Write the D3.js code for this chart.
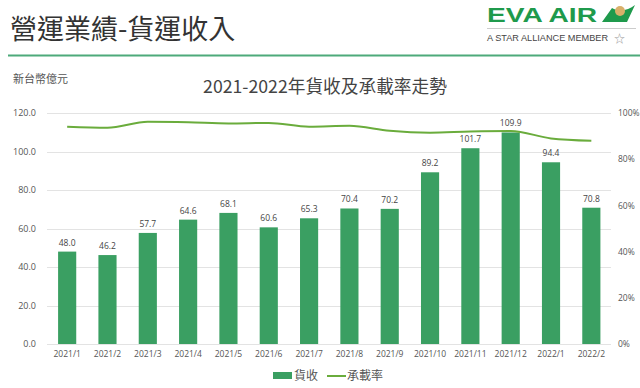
<!DOCTYPE html>
<html>
<head>
<meta charset="utf-8">
<script src="https://cdn.jsdelivr.net/npm/d3@7"></script>
<style>
  body { margin: 0; background: #fff; }
  svg { font-family: "Noto Sans CJK TC", "Noto Sans", sans-serif; }
</style>
</head>
<body>
<script>
// chart data
var months = ["2021/1", "2021/2", "2021/3", "2021/4", "2021/5", "2021/6", "2021/7",
              "2021/8", "2021/9", "2021/10", "2021/11", "2021/12", "2022/1", "2022/2"];
var cargoRevenue = [48.0, 46.2, 57.7, 64.6, 68.1, 60.6, 65.3, 70.4, 70.2, 89.2, 101.7, 109.9, 94.4, 70.8];
var loadFactor = [94.1, 93.6, 96.2, 96.0, 95.5, 95.7, 94.1, 94.5, 92.3, 91.5, 92.0, 92.2, 89.0, 88.0];
var leftTicks = [0, 20, 40, 60, 80, 100, 120];
var rightTicks = [0, 20, 40, 60, 80, 100];

function init() {
    var width = 640;
    var height = 388;
    var barColor = "#3a9f62";
    var lineColor = "#6aac3c";

    var svg = d3.select("body").append("svg")
        .attr("width", width)
        .attr("height", height);

    // page header
    svg.append("text")
        .attr("x", 10).attr("y", 39)
        .attr("font-size", 27)
        .attr("fill", "#333")
        .text("營運業績-貨運收入");

    svg.append("line")
        .attr("x1", 8).attr("x2", 640)
        .attr("y1", 55.5).attr("y2", 55.5)
        .attr("stroke", "#4daa7a")
        .attr("stroke-width", 2);

    // logo
    svg.append("text")
        .attr("x", 487).attr("y", 22)
        .attr("font-family", "Liberation Sans, sans-serif")
        .attr("font-weight", "bold")
        .attr("font-size", 21)
        .attr("textLength", 110)
        .attr("lengthAdjust", "spacingAndGlyphs")
        .attr("fill", "#1f9a4c")
        .text("EVA AIR");
    svg.append("path")
        .attr("d", "M602,22 L612,8 C618,12 628,11 635,5 L627,22 Z")
        .attr("fill", "#1f9a4c");
    svg.append("circle")
        .attr("cx", 620).attr("cy", 11).attr("r", 5)
        .attr("fill", "#d9b06a");
    svg.append("line")
        .attr("x1", 487).attr("x2", 636)
        .attr("y1", 28.5).attr("y2", 28.5)
        .attr("stroke", "#ccc");
    svg.append("text")
        .attr("x", 487).attr("y", 41)
        .attr("font-family", "Liberation Sans, sans-serif")
        .attr("font-size", 8.5)
        .attr("textLength", 121)
        .attr("lengthAdjust", "spacingAndGlyphs")
        .attr("fill", "#444")
        .text("A STAR ALLIANCE MEMBER");
    svg.append("text")
        .attr("x", 614).attr("y", 43)
        .attr("font-size", 11)
        .attr("fill", "#999")
        .text("☆");

    // chart title and unit
    svg.append("text")
        .attr("x", 325).attr("y", 93)
        .attr("text-anchor", "middle")
        .attr("font-size", 17.7)
        .attr("fill", "#444")
        .text("2021-2022年貨收及承載率走勢");

    svg.append("text")
        .attr("x", 13).attr("y", 83)
        .attr("font-size", 11)
        .attr("fill", "#555")
        .text("新台幣億元");

    // scales
    var x = d3.scaleBand()
        .domain(months)
        .range([47, 611.5])
        .paddingInner(0.55)
        .paddingOuter(0.275);

    var yLeft = d3.scaleLinear().domain([0, 120]).range([344, 113]);
    var yRight = d3.scaleLinear().domain([0, 100]).range([344, 113]);

    // gridlines
    svg.append("g")
        .selectAll("line")
        .data(leftTicks)
        .enter().append("line")
        .attr("x1", 47).attr("x2", 611)
        .attr("y1", function(d) { return Math.round(yLeft(d)) + 0.5; })
        .attr("y2", function(d) { return Math.round(yLeft(d)) + 0.5; })
        .attr("stroke", "#e3e3e3");

    // left axis
    var leftAxis = svg.append("g")
        .attr("transform", "translate(40,0)")
        .call(d3.axisLeft(yLeft).tickValues(leftTicks).tickSize(0).tickPadding(4)
            .tickFormat(d3.format(".1f")));
    leftAxis.select(".domain").remove();
    leftAxis.selectAll("text")
        .attr("font-size", 9).attr("fill", "#555")
        .attr("font-family", "Open Sans, sans-serif");

    // right axis
    var rightAxis = svg.append("g")
        .attr("transform", "translate(616,0)")
        .call(d3.axisRight(yRight).tickValues(rightTicks).tickSize(0).tickPadding(2)
            .tickFormat(function(d) { return d + "%"; }));
    rightAxis.select(".domain").remove();
    rightAxis.selectAll("text")
        .attr("font-size", 8.5).attr("fill", "#555")
        .attr("font-family", "Open Sans, sans-serif");

    // bottom axis
    var bottomAxis = svg.append("g")
        .attr("transform", "translate(0,344)")
        .call(d3.axisBottom(x).tickSize(0).tickPadding(7));
    bottomAxis.select(".domain").remove();
    bottomAxis.selectAll("text")
        .attr("font-size", 8.5).attr("fill", "#555")
        .attr("font-family", "Open Sans, sans-serif");

    // bars
    svg.append("g")
        .selectAll("rect")
        .data(cargoRevenue)
        .enter().append("rect")
        .attr("x", function(d, i) { return x(months[i]); })
        .attr("y", function(d) { return yLeft(d); })
        .attr("width", x.bandwidth())
        .attr("height", function(d) { return yLeft(0) - yLeft(d); })
        .attr("fill", barColor);

    // value labels
    svg.append("g")
        .selectAll("text")
        .data(cargoRevenue)
        .enter().append("text")
        .attr("x", function(d, i) { return x(months[i]) + x.bandwidth() / 2; })
        .attr("y", function(d) { return yLeft(d) - 6; })
        .attr("text-anchor", "middle")
        .attr("font-size", 8.5)
        .attr("font-family", "Open Sans, sans-serif")
        .attr("fill", "#444")
        .text(function(d) { return d.toFixed(1); });

    // load factor line
    var line = d3.line()
        .x(function(d, i) { return x(months[i]) + x.bandwidth() / 2; })
        .y(function(d) { return yRight(d); })
        .curve(d3.curveMonotoneX);

    svg.append("path")
        .datum(loadFactor)
        .attr("d", line)
        .attr("fill", "none")
        .attr("stroke", lineColor)
        .attr("stroke-width", 2);

    // legend
    var legend = svg.append("g").attr("transform", "translate(273,376)");
    legend.append("rect")
        .attr("x", 0).attr("y", -4)
        .attr("width", 19).attr("height", 7)
        .attr("fill", barColor);
    legend.append("text")
        .attr("x", 21).attr("y", 4)
        .attr("font-size", 12).attr("fill", "#555")
        .text("貨收");
    legend.append("line")
        .attr("x1", 54).attr("x2", 73)
        .attr("y1", 0).attr("y2", 0)
        .attr("stroke", lineColor)
        .attr("stroke-width", 2);
    legend.append("text")
        .attr("x", 74).attr("y", 4)
        .attr("font-size", 12).attr("fill", "#555")
        .text("承載率");
}

window.onload = init;
</script>
</body>
</html>
